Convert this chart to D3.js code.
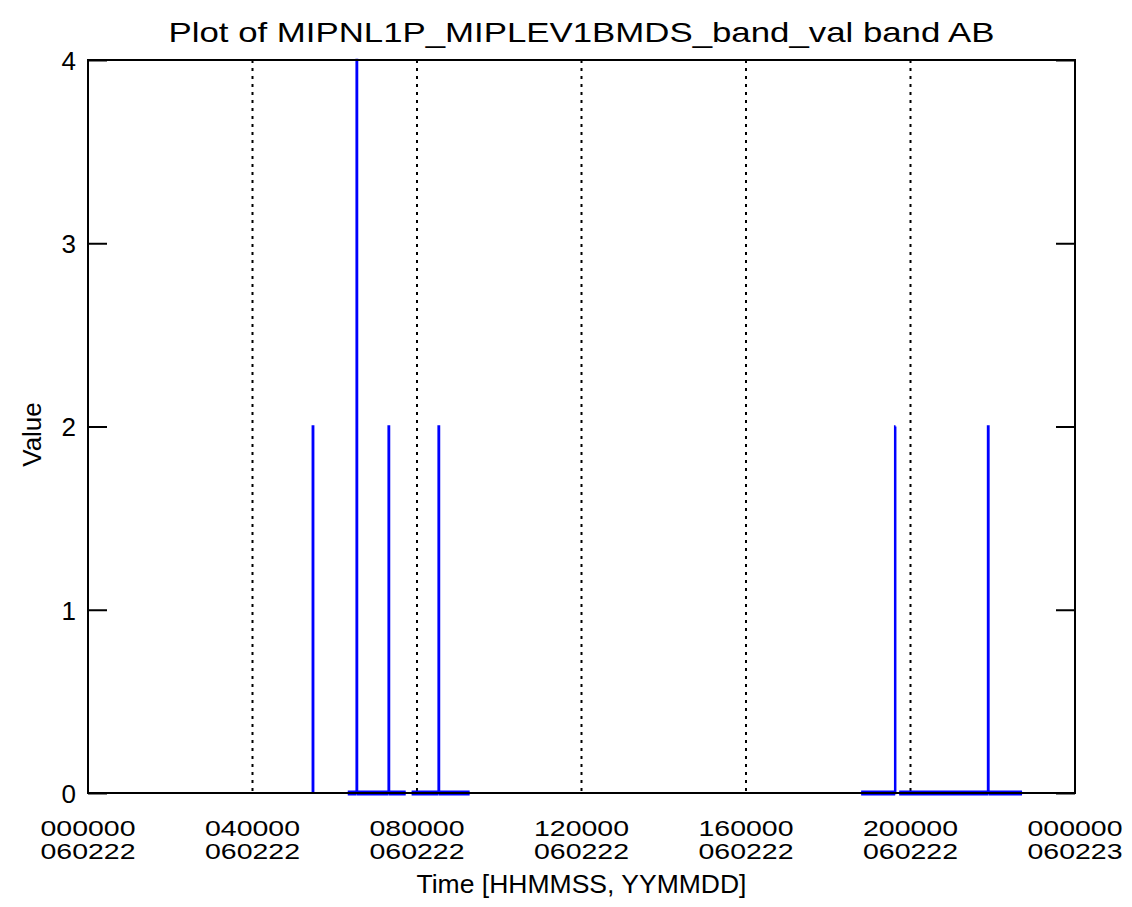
<!DOCTYPE html>
<html>
<head>
<meta charset="utf-8">
<script src="https://cdn.jsdelivr.net/npm/d3@7"></script>
<style>
  body { margin: 0; background: #fff; }
  text { font-family: "Liberation Sans", Arial, sans-serif; fill: #000; }
</style>
</head>
<body>
<div id="chart"></div>
<script>
// band_val samples, HHMMSS on 060222; null = no data (gap in the line)
var times = [
  "052800", "052800", "052830", "052830", null,
  "061900", "063200", "063200", "063230", "063230", "071840", "071840", "071910", "071910", "074330", null,
  "075210", "083135", "083135", "083205", "083205", "091645", null,
  "184800", "193740", "193740", "193810", null,
  "194330", "215310", "215310", "215340", "215340", "224245"
];
var values = [
  0, 2, 2, 0, null,
  0, 0, 4, 4, 0, 0, 2, 2, 0, 0, null,
  0, 0, 2, 2, 0, 0, null,
  0, 0, 2, 2, null,
  0, 0, 2, 2, 0, 0
];

var xTickTimes = ["000000", "040000", "080000", "120000", "160000", "200000", "240000"];
var xTickDates = ["060222", "060222", "060222", "060222", "060222", "060222", "060223"];
var yTicks = [0, 1, 2, 3, 4];

var width = 1132, height = 907;
var margin = {top: 60, right: 57, bottom: 114, left: 88};

function toSec(s) {
  return (+s.slice(0, 2)) * 3600 + (+s.slice(2, 4)) * 60 + (+s.slice(4, 6));
}

var data = times.map(function(t, i) {
  return {t: t === null ? null : toSec(t), v: values[i]};
});

var svg = d3.select("#chart").append("svg")
  .attr("width", width)
  .attr("height", height);

var x = d3.scaleLinear().domain([0, 86400]).range([margin.left, width - margin.right]);
var y = d3.scaleLinear().domain([0, 4]).range([height - margin.bottom, margin.top]);

/* title */
svg.append("text")
  .attr("x", (x.range()[0] + x.range()[1]) / 2)
  .attr("y", 42)
  .attr("text-anchor", "middle")
  .attr("textLength", 826)
  .attr("lengthAdjust", "spacingAndGlyphs")
  .style("font-size", "28px")
  .text("Plot of MIPNL1P_MIPLEV1BMDS_band_val band AB");

/* dotted time grid */
svg.append("g")
  .selectAll("line")
  .data(xTickTimes.slice(1, -1))
  .enter().append("line")
  .attr("x1", function(d) { return x(toSec(d)); })
  .attr("x2", function(d) { return x(toSec(d)); })
  .attr("y1", y(4))
  .attr("y2", y(0))
  .attr("stroke", "#000")
  .attr("stroke-width", 2)
  .attr("stroke-dasharray", "3,5");

/* data line */
var line = d3.line()
  .defined(function(d) { return d.t !== null; })
  .x(function(d) { return x(d.t); })
  .y(function(d) { return y(d.v); });

// zero runs are drawn heavier, like the original
var zeroRuns = [];
data.forEach(function(d, i) {
  var n = data[i + 1];
  if (n && d.t !== null && n.t !== null && d.v === 0 && n.v === 0) zeroRuns.push([d, n]);
});

svg.append("g")
  .selectAll("path")
  .data(zeroRuns)
  .enter().append("path")
  .attr("d", line)
  .attr("fill", "none")
  .attr("stroke", "#0000ff")
  .attr("stroke-width", 5);

svg.append("path")
  .datum(data)
  .attr("d", line)
  .attr("fill", "none")
  .attr("stroke", "#0000ff")
  .attr("stroke-width", 2.5)
  .attr("stroke-linejoin", "miter");

/* frame */
svg.append("rect")
  .attr("x", x.range()[0])
  .attr("y", y(4))
  .attr("width", x.range()[1] - x.range()[0])
  .attr("height", y(0) - y(4))
  .attr("fill", "none")
  .attr("stroke", "#000")
  .attr("stroke-width", 2);

/* y axes, ticks pointing inward */
var yLeft = d3.axisLeft(y).tickValues(yTicks).tickSize(-19).tickPadding(12).tickFormat(d3.format("d"));
var yRight = d3.axisRight(y).tickValues(yTicks).tickSize(-19).tickFormat("");

var gl = svg.append("g").attr("transform", "translate(" + x.range()[0] + ",0)").call(yLeft);
var gr = svg.append("g").attr("transform", "translate(" + x.range()[1] + ",0)").call(yRight);
[gl, gr].forEach(function(g) {
  g.select(".domain").remove();
  g.selectAll(".tick line").attr("stroke", "#000").attr("stroke-width", 2);
});
gl.selectAll(".tick text")
  .style("font-size", "26px")
  .style("font-family", "Liberation Sans, Arial, sans-serif")
  .attr("dy", "0.36em");

/* x tick labels: time over date, two separate rows */
[xTickTimes, xTickDates].forEach(function(row, r) {
  svg.append("g")
    .selectAll("text")
    .data(row)
    .enter().append("text")
    .attr("x", function(d, i) { return x(toSec(xTickTimes[i])); })
    .attr("y", 836 + r * 23)
    .attr("text-anchor", "middle")
    .attr("textLength", 95)
    .attr("lengthAdjust", "spacingAndGlyphs")
    .style("font-size", "22px")
    .text(function(d) { return d === "240000" ? "000000" : d; });
});

/* axis titles */
svg.append("text")
  .attr("x", (x.range()[0] + x.range()[1]) / 2)
  .attr("y", 893)
  .attr("text-anchor", "middle")
  .attr("textLength", 330)
  .attr("lengthAdjust", "spacingAndGlyphs")
  .style("font-size", "26px")
  .text("Time [HHMMSS, YYMMDD]");

svg.append("text")
  .attr("transform", "translate(41," + (y(2) + 8) + ") rotate(-90)")
  .attr("text-anchor", "middle")
  .style("font-size", "26px")
  .text("Value");
</script>
</body>
</html>
